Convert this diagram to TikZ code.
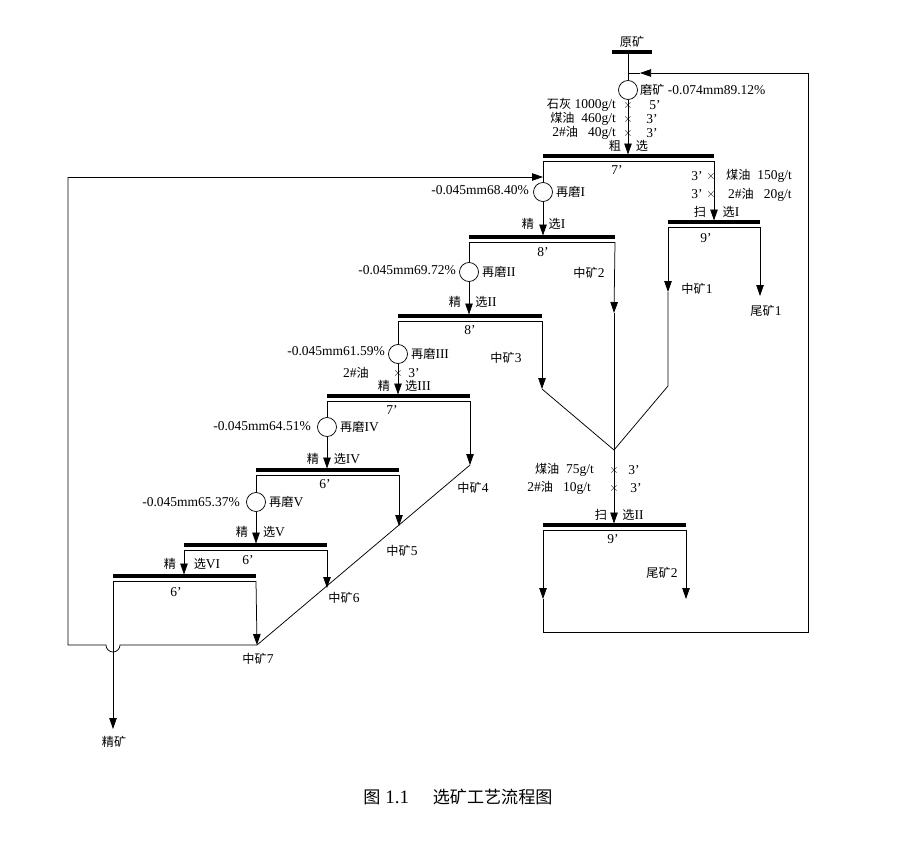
\documentclass[tikz,border=0pt]{standalone}
\usepackage{fontspec}
\setmainfont{Liberation Serif}
\newfontfamily\cjk{Noto Sans CJK SC}[Scale=0.9]
\newcommand\zh[1]{{\cjk #1}}
\usetikzlibrary{arrows.meta}
\begin{document}
\begin{tikzpicture}[x=1pt,y=-1pt,
  every node/.style={font=\fontsize{13.5}{15}\selectfont,inner sep=1pt},
  ln/.style={line width=0.75pt},
  fl/.style={ln,-{Triangle[length=11pt,width=7.5pt]}},
  mill/.style={circle,draw,line width=0.75pt,minimum size=19pt,inner sep=0pt}]
\useasboundingbox (0,0) rectangle (901,855);
\newcommand\fbar[4]{% name, x1, x2, y
  \draw[line width=3.5pt] (#2,#4) -- (#3,#4);
  \draw[ln] (#2,#4+5) -- (#3,#4+5);
  \coordinate (#1L) at (#2,#4+5); \coordinate (#1R) at (#3,#4+5);}
\newcommand\xm[1]{\node[inner sep=0pt,font=\fontsize{12}{12}\selectfont] at (#1) {$\times$};}
% feed
\draw[line width=3.5pt] (612,52) -- (652,52);
\node (yk) at (632,42) {\zh{原矿}};
\node[mill] (m0) at (628,90) {};
\draw[ln] (628,52) -- (m0);
\coordinate (fbA) at (808,73); \coordinate (fbB) at (628,73);
\draw[fl] (fbA) -- (640,73); \draw[ln] (640,73) -- (fbB);
\node[anchor=west] at (639,90) {\zh{磨矿} -0.074mm89.12\%};
% rougher
\fbar{ro}{543}{714}{156}
\draw[fl] (m0) -- (628,154.5);
\coordinate (x1) at (628,105); \coordinate (x2) at (628,119); \coordinate (x3) at (628,133);
\xm{x1}\xm{x2}\xm{x3}
\node[anchor=east] at (617,105) {\zh{石灰} 1000g/t};
\node[anchor=east] at (617,119) {\zh{煤油}\ \ 460g/t};
\node[anchor=east] at (617,133) {2\#\zh{油}\ \ \ 40g/t};
\node at (655,105) {5'}; \node at (652,119) {3'}; \node at (652,133) {3'};
\node at (615,146) {\zh{粗}}; \node at (642,146) {\zh{选}};
\node at (617,170) {7'};
% regrind I
\node[mill] (m1) at (543,192) {};
\draw[ln] (roL) -- (m1);
\coordinate (lt) at (68,177);
\draw[fl] (lt) -- (543,177);
\node[anchor=west] at (555,192) {\zh{再磨}I};
\node[anchor=east] at (530,190) {-0.045mm68.40\%};
% scav I
\fbar{s1}{668}{760}{222}
\draw[fl] (roR) -- (714,220.5);
\coordinate (x4) at (711,176); \coordinate (x5) at (711,194); \xm{x4}\xm{x5}
\node at (697,176) {3'}; \node at (697,194) {3'};
\node[anchor=west] at (725,176) {\zh{煤油}\ \ 150g/t};
\node[anchor=west] at (727,195) {2\#\zh{油}\ \ \ 20g/t};
\node at (700,212) {\zh{扫}}; \node at (731,212) {\zh{选}I};
\node at (706,238) {9'};
\draw[fl] (s1R) -- (760,296);
\node at (766,311) {\zh{尾矿}1};
\coordinate (j) at (614,450);
\draw[fl] (s1L) -- (668,292); \draw[ln] (668,292) -- (668,386) -- (j);
\node at (697,289) {\zh{中矿}1};
% cleaner I
\fbar{c1}{469}{615}{237}
\draw[fl] (m1) -- (543,235.5);
\node at (528,224) {\zh{精}}; \node at (557,224) {\zh{选}I};
\node at (543,252) {8'};
\draw[fl] (c1R) -- (614,313); \draw[ln] (614,313) -- (j);
\node at (589,273) {\zh{中矿}2};
\node[mill] (m2) at (469,272) {};
\draw[ln] (c1L) -- (m2);
\node[anchor=west] at (481,272) {\zh{再磨}II};
\node[anchor=east] at (457,270) {-0.045mm69.72\%};
% cleaner II
\fbar{c2}{398}{542}{316}
\draw[fl] (m2) -- (469,314.5);
\node at (455,302) {\zh{精}}; \node at (486,302) {\zh{选}II};
\node at (470,330) {8'};
\draw[fl] (c2R) -- (542,389); \draw[ln] (542,389) -- (j);
\node at (506,358) {\zh{中矿}3};
\node[mill] (m3) at (398,354) {};
\draw[ln] (c2L) -- (m3);
\node[anchor=west] at (410,354) {\zh{再磨}III};
\node[anchor=east] at (386,351) {-0.045mm61.59\%};
\coordinate (x6) at (398,373); \xm{x6}
\node at (356,373) {2\#\zh{油}}; \node at (414,373) {3'};
% cleaner III
\fbar{c3}{327}{470}{396}
\draw[fl] (m3) -- (398,394.5);
\node at (384,386) {\zh{精}}; \node at (418,386) {\zh{选}III};
\node at (392,410) {7'};
\coordinate (d7) at (257,645);
\draw[fl] (c3R) -- (470,465); \draw[ln] (470,465) -- (d7);
\node at (473,488) {\zh{中矿}4};
\node[mill] (m4) at (327,427) {};
\draw[ln] (c3L) -- (m4);
\node[anchor=west] at (339,427) {\zh{再磨}IV};
\node[anchor=east] at (312,426) {-0.045mm64.51\%};
% cleaner IV
\fbar{c4}{256}{399}{470}
\draw[fl] (m4) -- (327,468.5);
\node at (313,459) {\zh{精}}; \node at (347,459) {\zh{选}IV};
\node at (325,484) {6'};
\draw[fl] (c4R) -- (399,526);
\node at (402,551) {\zh{中矿}5};
\node[mill] (m5) at (256,502) {};
\draw[ln] (c4L) -- (m5);
\node[anchor=west] at (268,502) {\zh{再磨}V};
\node[anchor=east] at (241,502) {-0.045mm65.37\%};
% cleaner V
\fbar{c5}{184}{327}{545}
\draw[fl] (m5) -- (256,543.5);
\node at (242,532) {\zh{精}}; \node at (274,532) {\zh{选}V};
\node at (248,560) {6'};
\draw[fl] (c5R) -- (327,588);
\node at (344,598) {\zh{中矿}6};
% cleaner VI
\fbar{c6}{113}{256}{576}
\draw[fl] (c5L) -- (184,574.5);
\node at (170,564) {\zh{精}}; \node at (207,564) {\zh{选}VI};
\node at (176,592) {6'};
\draw[fl] (c6R) -- (d7);
\node at (258,659) {\zh{中矿}7};
% left return loop with hop
\draw[ln] (lt) -- (68,645) -- (106,645) arc[start angle=180,end angle=0,radius=7] -- (d7);
\coordinate (conc) at (113,729);
\draw[fl] (c6L) -- (conc);
\node at (114,742) {\zh{精矿}};
% scav II
\fbar{s2}{543}{686}{525}
\draw[fl] (j) -- (614,523.5);
\coordinate (x7) at (614,470); \coordinate (x8) at (614,488); \xm{x7}\xm{x8}
\node[anchor=east] at (595,470) {\zh{煤油}\ \ 75g/t};
\node[anchor=east] at (592,488) {2\#\zh{油}\ \ \ 10g/t};
\node at (634,470) {3'}; \node at (636,488) {3'};
\node at (601,515) {\zh{扫}}; \node at (633,515) {\zh{选}II};
\node at (613,539) {9'};
\draw[fl] (s2R) -- (686,599);
\node at (662,573) {\zh{尾矿}2};
\draw[fl] (s2L) -- (543,599);
\draw[ln] (543,599) -- (543,632) -- (808,632) -- (fbA);
% caption
\node[font=\fontsize{19}{21}\selectfont] at (458,797) {\zh{图} 1.1\quad\ \zh{选矿工艺流程图}};
\end{tikzpicture}
\end{document}
